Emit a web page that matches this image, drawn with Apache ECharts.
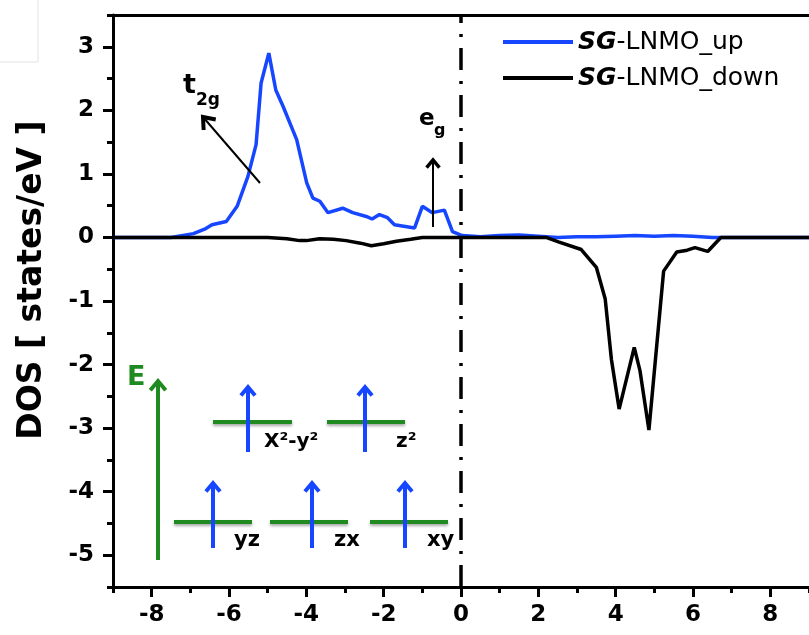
<!DOCTYPE html>
<html>
<head>
<meta charset="utf-8">
<script src="https://cdn.jsdelivr.net/npm/echarts@6/dist/echarts.min.js"></script>
<style>
html,body{margin:0;padding:0;background:#fff;}
#main{width:809px;height:635px;}
</style>
</head>
<body>
<div id="main"></div>
<script>
// ---- Data ----
const energyUp = [-9, -7.5, -6.92, -6.6, -6.44, -6.07, -5.79, -5.51, -5.3, -5.17, -4.97, -4.79, -4.6, -4.25, -3.99, -3.83, -3.65, -3.44, -3.06, -2.8, -2.45, -2.3, -2.11, -1.9, -1.72, -1.2, -1.0, -0.74, -0.43, -0.22, 0.03, 0.5, 1.0, 1.5, 2.0, 2.5, 3.0, 3.5, 4.0, 4.5, 5.0, 5.5, 6.0, 6.5, 6.8, 9];
const dosUp    = [0, 0.0, 0.06, 0.14, 0.2, 0.25, 0.49, 0.96, 1.46, 2.43, 2.9, 2.32, 2.06, 1.54, 0.86, 0.62, 0.57, 0.39, 0.46, 0.39, 0.33, 0.29, 0.36, 0.31, 0.2, 0.15, 0.49, 0.39, 0.43, 0.09, 0.03, 0.01, 0.03, 0.04, 0.02, 0.0, 0.01, 0.01, 0.02, 0.03, 0.02, 0.03, 0.02, 0.0, 0.0, 0];
const energyDown = [-9, -5, -4.5, -4.17, -4.0, -3.66, -3.3, -2.97, -2.6, -2.32, -2.0, -1.67, -1.3, -1.0, 0, 1, 2.2, 2.52, 3.11, 3.5, 3.73, 3.89, 4.09, 4.48, 4.63, 4.86, 5.24, 5.58, 5.85, 6.05, 6.38, 6.72, 9];
const dosDown    = [0, 0, -0.02, -0.05, -0.05, -0.02, -0.03, -0.05, -0.09, -0.13, -0.1, -0.06, -0.03, 0.0, 0, 0, 0, -0.07, -0.19, -0.47, -0.97, -1.92, -2.7, -1.73, -2.1, -3.03, -0.53, -0.23, -0.2, -0.16, -0.22, 0, 0];
const seriesNames = ['SG-LNMO_up', 'SG-LNMO_down'];
const xTickLabels = [-8, -6, -4, -2, 0, 2, 4, 6, 8];
const xMinorTicks = [-9, -7, -5, -3, -1, 1, 3, 5, 7, 9];
const yTickLabels = [-5, -4, -3, -2, -1, 0, 1, 2, 3];
const yMinorTicks = [-5.5, -4.5, -3.5, -2.5, -1.5, -0.5, 0.5, 1.5, 2.5, 3.5];

const FONT = 'DejaVu Sans';
const upData = energyUp.map((x, i) => [x, dosUp[i]]);
const downData = energyDown.map((x, i) => [x, dosDown[i]]);

function arrow(x1, y1, x2, y2, color, w, headLen, headW, ang) {
  const dx = x2 - x1, dy = y2 - y1, L = Math.hypot(dx, dy);
  const bx = -dx / L, by = -dy / L;
  const a = (ang || 35) * Math.PI / 180;
  const r = (s) => [x2 + headLen * (bx * Math.cos(s) - by * Math.sin(s)), y2 + headLen * (bx * Math.sin(s) + by * Math.cos(s))];
  return [
    {type: 'line', shape: {x1: x1, y1: y1, x2: x2 + bx * 1, y2: y2 + by * 1}, style: {stroke: color, lineWidth: w}, z: 100},
    {type: 'polyline', shape: {points: [r(a), [x2, y2], r(-a)]}, style: {stroke: color, lineWidth: headW, fill: null, lineJoin: 'miter', lineCap: 'butt'}, z: 100}
  ];
}
const GREEN = '#1f8a1f';
const BLUE = '#1646ff';
function level(x1, x2, y) {
  return {type: 'line', shape: {x1: x1, y1: y, x2: x2, y2: y},
    style: {stroke: GREEN, lineWidth: 4, shadowBlur: 3, shadowColor: 'rgba(0,0,0,0.35)', shadowOffsetY: 2}, z: 99};
}
function label(txt, x, y, size, color) {
  return {type: 'text', x: x, y: y, z: 101,
    style: {text: txt, fontFamily: FONT, fontWeight: 'bold', fontSize: size, fill: color || '#000', textVerticalAlign: 'top', textAlign: 'left'}};
}

const graphics = [].concat(
  [{type: 'rect', shape: {x: -1, y: -1, width: 39, height: 63}, style: {stroke: '#e2e2e2', fill: null, lineWidth: 1}}],
  arrow(260, 183, 203, 117, '#000', 2, 13, 4, 38),
  [label('t', 183, 72, 27), label('2g', 196, 92, 17)],
  arrow(433, 227, 433, 160, '#000', 2, 10, 3.5, 40),
  [label('e', 419, 108, 23), label('g', 434, 123, 16)],
  arrow(158, 560, 158, 381, GREEN, 4, 12, 4, 40),
  [label('E', 127, 364, 27, GREEN)],
  [level(174, 252, 522), level(270, 348, 522), level(370, 448, 522), level(213, 292, 422), level(327, 405, 422)],
  arrow(213, 548, 213, 483, BLUE, 4, 11, 4, 40),
  arrow(312, 548, 312, 483, BLUE, 4, 11, 4, 40),
  arrow(405, 548, 405, 483, BLUE, 4, 11, 4, 40),
  arrow(248, 452, 248, 387, BLUE, 4, 11, 4, 40),
  arrow(365, 452, 365, 387, BLUE, 4, 11, 4, 40),
  [label('X²-y²', 264, 432, 20), label('z²', 396, 432, 20), label('yz', 234, 530, 21), label('zx', 334, 530, 21), label('xy', 427, 530, 21)]
);

const axisFont = {fontFamily: FONT, fontWeight: 'bold', fontSize: 23, color: '#000'};
function tickAxis(pos, min, max, values, len) {
  return {
    type: 'value', min: min, max: max, position: pos,
    axisLine: {show: false, onZero: false},
    axisTick: {show: true, inside: false, length: len, lineStyle: {color: '#000', width: 3}, customValues: values},
    axisLabel: {show: false}, splitLine: {show: false}
  };
}
const option = {
  animation: false,
  backgroundColor: '#fff',
  grid: {left: 113, top: 15, bottom: 48, right: -3, containLabel: false},
  legend: {
    orient: 'vertical', left: 498, top: 23, itemWidth: 70, itemHeight: 4, itemGap: 8, icon: 'rect',
    data: seriesNames,
    formatter: (n) => '{i|SG}{n|' + n.slice(2) + '}',
    textStyle: {
      fontFamily: FONT, fontSize: 25, color: '#000', lineHeight: 28,
      rich: {
        i: {fontFamily: FONT, fontSize: 25, fontWeight: 'bold', fontStyle: 'italic', color: '#000'},
        n: {fontFamily: FONT, fontSize: 25, color: '#000'}
      }
    }
  },
  xAxis: [{
    type: 'value', min: -9, max: 9, position: 'bottom',
    axisLine: {show: true, onZero: false, lineStyle: {color: '#000', width: 3}},
    axisTick: {show: false},
    axisLabel: Object.assign({show: true, margin: 17, customValues: xTickLabels}, axisFont),
    splitLine: {show: false}
  },
  tickAxis('bottom', -9, 9, xTickLabels, 10),
  tickAxis('bottom', -9, 9, xMinorTicks, 6),
  {
    type: 'value', min: -9, max: 9, position: 'top',
    axisLine: {show: true, onZero: false, lineStyle: {color: '#000', width: 3}},
    axisTick: {show: false}, axisLabel: {show: false}, splitLine: {show: false}
  }],
  yAxis: [{
    type: 'value', min: -5.5, max: 3.5, position: 'left',
    name: 'DOS [ states/eV ]', nameLocation: 'middle', nameGap: 64,
    nameTextStyle: {fontFamily: FONT, fontWeight: 'bold', fontSize: 33, color: '#000', padding: [0, 0, 0, 42]},
    axisLine: {show: true, onZero: false, lineStyle: {color: '#000', width: 3}},
    axisTick: {show: false},
    axisLabel: Object.assign({show: true, margin: 19, customValues: yTickLabels}, axisFont),
    splitLine: {show: false}
  },
  tickAxis('left', -5.5, 3.5, yTickLabels, 10),
  tickAxis('left', -5.5, 3.5, yMinorTicks, 6)],
  series: [{
    name: seriesNames[0], type: 'line', data: upData, symbol: 'none', smooth: false, z: 3,
    lineStyle: {color: BLUE, width: 3.5}, itemStyle: {color: BLUE},
    markLine: {
      silent: true, symbol: 'none', label: {show: false},
      lineStyle: {color: '#000', width: 3.5, type: [22, 11, 3, 11]},
      data: [{xAxis: 0}]
    }
  }, {
    name: seriesNames[1], type: 'line', data: downData, symbol: 'none', smooth: false, z: 4,
    lineStyle: {color: '#000', width: 3.5}, itemStyle: {color: '#000'}
  }],
  graphic: graphics
};
const chart = echarts.init(document.getElementById('main'));
chart.setOption(option);
</script>
</body>
</html>
